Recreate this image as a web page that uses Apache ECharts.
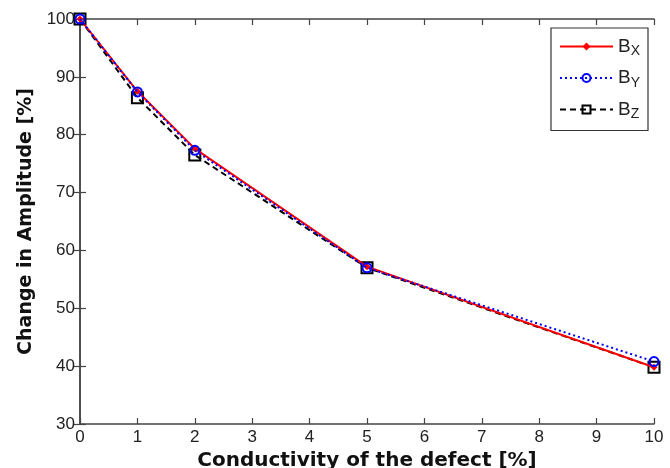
<!DOCTYPE html>
<html><head><meta charset="utf-8">
<script src="https://cdn.jsdelivr.net/npm/echarts@6/dist/echarts.min.js"></script>
<style>html,body{margin:0;padding:0;background:#fff}#c{width:670px;height:468px}</style>
</head><body><div id="c"></div>
<script>
const xValues = [0, 1, 2, 5, 10];
const bx = [100, 87.5, 77.6, 57.2, 39.8];
const by = [100, 87.4, 77.3, 57.0, 40.8];
const bz = [100, 86.4, 76.5, 57.0, 39.8];
const seriesNames = ['Bx', 'By', 'Bz'];
const xTitle = 'Conductivity of the defect [%]';
const yTitle = 'Change in Amplitude [%]';

const pairs = a => xValues.map((x, i) => [x, a[i]]);
const font = 'Liberation Sans, Arial, sans-serif';
const narrow = 'Liberation Sans Narrow, Arial Narrow, Liberation Sans, sans-serif';
const titleFont = 'DejaVu Sans, Liberation Sans, sans-serif';
const axisCommon = {
  axisLine: {show: true, lineStyle: {color: '#444', width: 1.5}},
  axisTick: {show: true, inside: true, length: 6, lineStyle: {color: '#444', width: 1.2}},
  splitLine: {show: false}
};
const chart = echarts.init(document.getElementById('c'));
chart.setOption({
  animation: false,
  backgroundColor: '#fff',
  grid: {left: 80, right: 16, top: 19, bottom: 44, containLabel: false, outerBoundsMode: 'none'},
  legend: {
    right: 22, top: 28, orient: 'vertical',
    itemWidth: 53, itemHeight: 10, itemGap: 10,
    padding: [9, 8, 9, 8],
    borderColor: '#333', borderWidth: 1.2, backgroundColor: '#fff',
    formatter: n => '{b|B}{s|' + n.slice(1).toUpperCase() + '}',
    textStyle: {
      fontFamily: font,
      rich: {
        b: {fontSize: 19, color: '#222', fontFamily: font, lineHeight: 24},
        s: {fontSize: 14, color: '#222', fontFamily: font, verticalAlign: 'bottom', lineHeight: 14, padding: [6, 0, 0, 0]}
      }
    },
    data: seriesNames
  },
  xAxis: [
    Object.assign({type: 'value', min: 0, max: 10, interval: 1, position: 'bottom',
      name: xTitle, nameLocation: 'middle', nameGap: 24,
      nameTextStyle: {fontFamily: titleFont, fontSize: 20, fontWeight: 'bold', color: '#111'},
      axisLabel: {fontFamily: narrow, fontSize: 17, color: '#222', margin: 5}}, axisCommon),
    Object.assign({type: 'value', min: 0, max: 10, interval: 1, position: 'top',
      axisLabel: {show: false}}, axisCommon)
  ],
  yAxis: [
    Object.assign({type: 'value', min: 30, max: 100, interval: 10, position: 'left',
      name: yTitle, nameLocation: 'middle', nameGap: 42,
      nameTextStyle: {fontFamily: titleFont, fontSize: 19, fontWeight: 'bold', color: '#111'},
      axisLabel: {fontFamily: narrow, fontSize: 17, color: '#222', margin: 5}}, axisCommon),
    Object.assign({type: 'value', min: 30, max: 100, interval: 10, position: 'right',
      axisLabel: {show: false}}, axisCommon)
  ],
  series: [
    {name: 'Bx', type: 'line', data: pairs(bx), z: 3,
      symbol: 'diamond', symbolSize: 7,
      lineStyle: {color: '#ff0000', width: 2}, itemStyle: {color: '#ff0000'}},
    {name: 'By', type: 'line', data: pairs(by), z: 4,
      symbol: 'circle', symbolSize: 9,
      lineStyle: {color: '#0000ff', width: 2, type: [2, 3]},
      itemStyle: {color: 'none', borderColor: '#0000ff', borderWidth: 2}},
    {name: 'Bz', type: 'line', data: pairs(bz), z: 2,
      symbol: 'rect', symbolSize: 11,
      lineStyle: {color: '#000', width: 2, type: [6, 4]},
      itemStyle: {color: 'none', borderColor: '#000', borderWidth: 2}}
  ]
});
</script></body></html>
